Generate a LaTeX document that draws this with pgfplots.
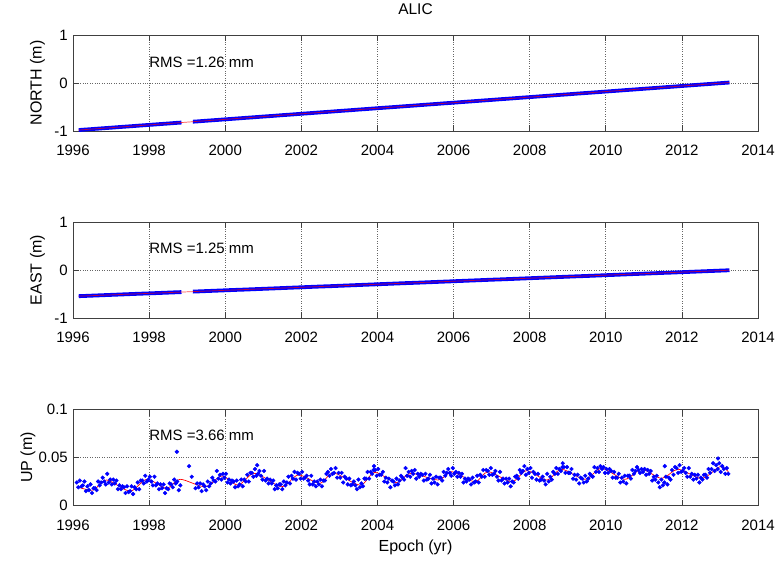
\documentclass[border=0pt]{standalone}
\usepackage{fontspec}
\setmainfont{Liberation Sans}
\usepackage{pgfplots}
\pgfplotsset{compat=1.18}
\begin{document}
\fontsize{15}{18}\selectfont
\begin{tikzpicture}
\useasboundingbox (0pt,0pt) rectangle (778pt,-563pt);
\pgfplotsset{
 gps/.style={
  scale only axis, width=685pt, height=96pt,
  xmin=1996, xmax=2014, xtick={1996,1998,...,2014},
  /pgf/number format/assume math mode=true,
  /pgf/number format/1000 sep={},
  xticklabel style={yshift=-9pt},
  grid=major, grid style={dotted, black!60, line width=0.6pt},
  tick align=inside, major tick length=6pt,
  axis line style={black!75, line width=0.6pt},
  every tick/.style={black!75, line width=0.6pt},
  every axis y label/.style={at={(axis description cs:-0.0518,0.5)}, rotate=90, anchor=center, font=\fontsize{16}{18}\selectfont},
  unbounded coords=jump,
 },
 ne/.style={ymin=-1, ymax=1, ytick={-1,0,1}, yticklabels={-1,0,1}},
}
% ---------------- NORTH
\begin{axis}[gps, ne, at={(73pt,-131pt)}, anchor=south west, ylabel={NORTH (m)},
  title={ALIC}, title style={at={(axis description cs:0.5,1.21)}, anchor=center, font=\fontsize{15.5}{18}\selectfont}]
\addplot[blue, line width=3.8pt, line join=round] table[row sep=\\] {
x y\\
1996.15 -0.980\\ 1996.25 -0.974\\ 1996.50 -0.960\\ 1996.75 -0.945\\ 1997.00 -0.931\\ 1997.25 -0.916\\ 1997.50 -0.902\\ 1997.75 -0.887\\
1998.00 -0.873\\ 1998.25 -0.858\\ 1998.50 -0.844\\ 1998.75 -0.829\\ 1998.85 -0.824\\ 1999.00 nan\\ 1999.15 -0.806\\ 1999.25 -0.801\\
1999.50 -0.786\\ 1999.75 -0.772\\ 2000.00 -0.757\\ 2000.25 -0.743\\ 2000.50 -0.728\\ 2000.75 -0.714\\ 2001.00 -0.699\\ 2001.25 -0.685\\
2001.50 -0.670\\ 2001.75 -0.656\\ 2002.00 -0.641\\ 2002.25 -0.627\\ 2002.50 -0.612\\ 2002.75 -0.598\\ 2003.00 -0.583\\ 2003.25 -0.569\\
2003.50 -0.554\\ 2003.75 -0.540\\ 2004.00 -0.525\\ 2004.25 -0.511\\ 2004.50 -0.497\\ 2004.75 -0.482\\ 2005.00 -0.468\\ 2005.25 -0.453\\
2005.50 -0.439\\ 2005.75 -0.424\\ 2006.00 -0.410\\ 2006.25 -0.395\\ 2006.50 -0.381\\ 2006.75 -0.366\\ 2007.00 -0.352\\ 2007.25 -0.337\\
2007.50 -0.323\\ 2007.75 -0.308\\ 2008.00 -0.294\\ 2008.25 -0.279\\ 2008.50 -0.265\\ 2008.75 -0.250\\ 2009.00 -0.236\\ 2009.25 -0.221\\
2009.50 -0.207\\ 2009.75 -0.193\\ 2010.00 -0.178\\ 2010.25 -0.164\\ 2010.50 -0.149\\ 2010.75 -0.135\\ 2011.00 -0.120\\ 2011.25 -0.106\\
2011.50 -0.091\\ 2011.75 -0.077\\ 2012.00 -0.062\\ 2012.25 -0.048\\ 2012.50 -0.033\\ 2012.75 -0.019\\ 2013.00 -0.004\\ 2013.25 0.010\\
};
\addplot[red, line width=0.7pt, opacity=0.7] coordinates {(1996.15,-0.980) (2013.25,0.010)};
\node[anchor=west, inner sep=0pt] at (axis cs:1998,0.44) {RMS =1.26 mm};
\end{axis}
% ---------------- EAST
\begin{axis}[gps, ne, at={(73pt,-318pt)}, anchor=south west, ylabel={EAST (m)}]
\addplot[blue, line width=3.8pt, line join=round] table[row sep=\\] {
x y\\
1996.15 -0.545\\ 1996.25 -0.542\\ 1996.50 -0.534\\ 1996.75 -0.526\\ 1997.00 -0.518\\ 1997.25 -0.510\\ 1997.50 -0.502\\ 1997.75 -0.494\\
1998.00 -0.487\\ 1998.25 -0.479\\ 1998.50 -0.471\\ 1998.75 -0.463\\ 1998.85 -0.460\\ 1999.00 nan\\ 1999.15 -0.450\\ 1999.25 -0.447\\
1999.50 -0.439\\ 1999.75 -0.431\\ 2000.00 -0.423\\ 2000.25 -0.415\\ 2000.50 -0.408\\ 2000.75 -0.400\\ 2001.00 -0.392\\ 2001.25 -0.384\\
2001.50 -0.376\\ 2001.75 -0.368\\ 2002.00 -0.360\\ 2002.25 -0.352\\ 2002.50 -0.344\\ 2002.75 -0.337\\ 2003.00 -0.329\\ 2003.25 -0.321\\
2003.50 -0.313\\ 2003.75 -0.305\\ 2004.00 -0.297\\ 2004.25 -0.289\\ 2004.50 -0.281\\ 2004.75 -0.273\\ 2005.00 -0.266\\ 2005.25 -0.258\\
2005.50 -0.250\\ 2005.75 -0.242\\ 2006.00 -0.234\\ 2006.25 -0.226\\ 2006.50 -0.218\\ 2006.75 -0.210\\ 2007.00 -0.202\\ 2007.25 -0.195\\
2007.50 -0.187\\ 2007.75 -0.179\\ 2008.00 -0.171\\ 2008.25 -0.163\\ 2008.50 -0.155\\ 2008.75 -0.147\\ 2009.00 -0.139\\ 2009.25 -0.131\\
2009.50 -0.124\\ 2009.75 -0.116\\ 2010.00 -0.108\\ 2010.25 -0.100\\ 2010.50 -0.092\\ 2010.75 -0.084\\ 2011.00 -0.076\\ 2011.25 -0.068\\
2011.50 -0.060\\ 2011.75 -0.053\\ 2012.00 -0.045\\ 2012.25 -0.037\\ 2012.50 -0.029\\ 2012.75 -0.021\\ 2013.00 -0.013\\ 2013.25 -0.005\\
};
\addplot[red, line width=0.7pt, opacity=0.7] coordinates {(1996.15,-0.545) (2013.25,-0.005)};
\node[anchor=west, inner sep=0pt] at (axis cs:1998,0.45) {RMS =1.25 mm};
\end{axis}
% ---------------- UP
\begin{axis}[gps, at={(73pt,-505.5pt)}, anchor=south west, ylabel={UP (m)},
  ylabel style={at={(axis description cs:-0.0657,0.5)}},
  ymin=0, ymax=0.1, ytick={0,0.05,0.1}, yticklabels={0,0.05,0.1},
  xlabel={Epoch (yr)}, xlabel style={at={(axis description cs:0.5,-0.4375)}, anchor=center, font=\fontsize{16}{18}\selectfont}]
\addplot[only marks, mark=*, mark size=1.9pt, blue, mark options={draw=blue, fill=blue}] coordinates {
(1996.10,0.024) (1996.14,0.019) (1996.18,0.026) (1996.22,0.020) (1996.26,0.021) (1996.30,0.025) (1996.34,0.015) (1996.38,0.020)
(1996.42,0.016) (1996.46,0.022) (1996.50,0.013) (1996.54,0.018) (1996.58,0.018) (1996.62,0.016) (1996.66,0.025) (1996.70,0.021)
(1996.74,0.024) (1996.78,0.029) (1996.82,0.025) (1996.86,0.022) (1996.90,0.033) (1996.94,0.024) (1996.98,0.027) (1997.02,0.022)
(1997.06,0.027) (1997.10,0.023) (1997.14,0.026) (1997.18,0.017) (1997.22,0.021) (1997.26,0.017) (1997.30,0.020) (1997.34,0.019)
(1997.38,0.013) (1997.42,0.020) (1997.46,0.014) (1997.50,0.015) (1997.54,0.020) (1997.58,0.012) (1997.62,0.019) (1997.66,0.017)
(1997.70,0.024) (1997.74,0.017) (1997.78,0.026) (1997.82,0.026) (1997.86,0.023) (1997.90,0.031) (1997.94,0.025) (1997.98,0.027)
(1998.02,0.030) (1998.06,0.025) (1998.10,0.021) (1998.14,0.030) (1998.18,0.021) (1998.22,0.023) (1998.26,0.017) (1998.30,0.022)
(1998.34,0.018) (1998.38,0.022) (1998.42,0.013) (1998.46,0.018) (1998.50,0.017) (1998.54,0.023) (1998.58,0.022) (1998.62,0.019)
(1998.66,0.027) (1998.70,0.023) (1998.73,0.056) (1998.74,0.025) (1998.78,0.016) (1998.82,0.021) (1999.05,0.041) (1999.12,0.030)
(1999.22,0.018) (1999.26,0.023) (1999.30,0.019) (1999.34,0.023) (1999.38,0.015) (1999.42,0.022) (1999.46,0.020) (1999.50,0.016)
(1999.54,0.025) (1999.58,0.020) (1999.62,0.023) (1999.66,0.029) (1999.70,0.026) (1999.74,0.025) (1999.78,0.036) (1999.82,0.028)
(1999.86,0.032) (1999.90,0.027) (1999.94,0.033) (1999.98,0.029) (2000.02,0.033) (2000.06,0.024) (2000.10,0.027) (2000.14,0.023)
(2000.18,0.026) (2000.22,0.025) (2000.26,0.019) (2000.30,0.026) (2000.34,0.020) (2000.38,0.022) (2000.42,0.027) (2000.46,0.020)
(2000.50,0.027) (2000.54,0.025) (2000.58,0.032) (2000.62,0.025) (2000.66,0.034) (2000.70,0.034) (2000.74,0.030) (2000.78,0.038)
(2000.82,0.031) (2000.84,0.042) (2000.86,0.033) (2000.90,0.036) (2000.94,0.031) (2000.98,0.027) (2001.02,0.036) (2001.06,0.026)
(2001.10,0.028) (2001.14,0.023) (2001.18,0.027) (2001.22,0.023) (2001.26,0.026) (2001.30,0.017) (2001.34,0.021) (2001.38,0.018)
(2001.42,0.022) (2001.46,0.022) (2001.50,0.017) (2001.54,0.025) (2001.58,0.021) (2001.62,0.024) (2001.66,0.030) (2001.70,0.023)
(2001.74,0.031) (2001.78,0.028) (2001.82,0.035) (2001.86,0.027) (2001.90,0.034) (2001.94,0.033) (2001.98,0.028) (2002.02,0.035)
(2002.06,0.028) (2002.10,0.029) (2002.14,0.031) (2002.18,0.026) (2002.22,0.022) (2002.26,0.031) (2002.30,0.022) (2002.34,0.025)
(2002.38,0.020) (2002.42,0.025) (2002.46,0.022) (2002.50,0.027) (2002.54,0.020) (2002.58,0.026) (2002.62,0.026) (2002.66,0.033)
(2002.70,0.035) (2002.74,0.031) (2002.78,0.038) (2002.82,0.033) (2002.86,0.034) (2002.90,0.039) (2002.94,0.029) (2002.98,0.034)
(2003.02,0.029) (2003.06,0.034) (2003.10,0.024) (2003.14,0.030) (2003.18,0.028) (2003.22,0.022) (2003.26,0.028) (2003.30,0.021)
(2003.34,0.022) (2003.38,0.025) (2003.42,0.021) (2003.46,0.017) (2003.50,0.027) (2003.54,0.019) (2003.58,0.023) (2003.62,0.020)
(2003.66,0.028) (2003.70,0.028) (2003.74,0.035) (2003.78,0.028) (2003.82,0.035) (2003.86,0.033) (2003.90,0.037) (2003.91,0.041)
(2003.94,0.037) (2003.98,0.031) (2004.02,0.038) (2004.06,0.032) (2004.10,0.032) (2004.14,0.035) (2004.18,0.025) (2004.22,0.029)
(2004.26,0.024) (2004.30,0.028) (2004.34,0.019) (2004.38,0.026) (2004.42,0.025) (2004.46,0.021) (2004.50,0.028) (2004.54,0.022)
(2004.58,0.026) (2004.62,0.031) (2004.66,0.029) (2004.70,0.027) (2004.74,0.039) (2004.78,0.031) (2004.82,0.035) (2004.86,0.030)
(2004.90,0.036) (2004.94,0.033) (2004.98,0.037) (2005.02,0.028) (2005.06,0.033) (2005.10,0.030) (2005.14,0.033) (2005.18,0.032)
(2005.22,0.026) (2005.26,0.033) (2005.30,0.027) (2005.34,0.028) (2005.38,0.032) (2005.42,0.023) (2005.46,0.028) (2005.50,0.024)
(2005.54,0.030) (2005.58,0.022) (2005.62,0.029) (2005.66,0.029) (2005.70,0.026) (2005.74,0.035) (2005.78,0.031) (2005.82,0.034)
(2005.86,0.038) (2005.90,0.034) (2005.94,0.031) (2005.98,0.039) (2006.02,0.033) (2006.06,0.035) (2006.10,0.030) (2006.14,0.034)
(2006.18,0.030) (2006.22,0.033) (2006.26,0.024) (2006.30,0.028) (2006.34,0.025) (2006.38,0.028) (2006.42,0.027) (2006.46,0.022)
(2006.50,0.029) (2006.54,0.024) (2006.58,0.025) (2006.62,0.031) (2006.66,0.024) (2006.70,0.032) (2006.74,0.030) (2006.78,0.037)
(2006.82,0.030) (2006.86,0.037) (2006.90,0.036) (2006.94,0.032) (2006.98,0.039) (2007.02,0.032) (2007.06,0.033) (2007.10,0.036)
(2007.14,0.030) (2007.18,0.026) (2007.22,0.035) (2007.26,0.026) (2007.30,0.028) (2007.34,0.023) (2007.38,0.028) (2007.42,0.024)
(2007.46,0.028) (2007.50,0.020) (2007.54,0.025) (2007.58,0.024) (2007.62,0.030) (2007.66,0.031) (2007.70,0.028) (2007.74,0.037)
(2007.78,0.034) (2007.82,0.036) (2007.86,0.041) (2007.90,0.032) (2007.94,0.038) (2007.98,0.034) (2008.02,0.039) (2008.06,0.029)
(2008.10,0.035) (2008.14,0.033) (2008.18,0.027) (2008.22,0.033) (2008.26,0.026) (2008.30,0.027) (2008.34,0.030) (2008.38,0.026)
(2008.42,0.022) (2008.46,0.033) (2008.50,0.025) (2008.54,0.030) (2008.58,0.027) (2008.62,0.035) (2008.66,0.033) (2008.70,0.039)
(2008.74,0.033) (2008.78,0.038) (2008.82,0.036) (2008.86,0.040) (2008.87,0.044) (2008.90,0.040) (2008.94,0.034) (2008.98,0.040)
(2009.02,0.034) (2009.06,0.034) (2009.10,0.038) (2009.14,0.028) (2009.18,0.032) (2009.22,0.027) (2009.26,0.032) (2009.30,0.023)
(2009.34,0.029) (2009.38,0.028) (2009.42,0.024) (2009.46,0.031) (2009.50,0.025) (2009.54,0.028) (2009.58,0.033) (2009.62,0.031)
(2009.66,0.030) (2009.70,0.040) (2009.74,0.035) (2009.78,0.039) (2009.82,0.035) (2009.86,0.041) (2009.90,0.038) (2009.94,0.040)
(2009.98,0.034) (2010.02,0.038) (2010.06,0.034) (2010.10,0.038) (2010.14,0.036) (2010.18,0.029) (2010.22,0.035) (2010.26,0.029)
(2010.30,0.029) (2010.34,0.033) (2010.38,0.024) (2010.42,0.029) (2010.46,0.025) (2010.50,0.031) (2010.54,0.023) (2010.58,0.031)
(2010.62,0.031) (2010.66,0.028) (2010.70,0.037) (2010.74,0.033) (2010.78,0.036) (2010.82,0.040) (2010.86,0.037) (2010.90,0.034)
(2010.94,0.038) (2010.98,0.035) (2011.02,0.038) (2011.06,0.032) (2011.10,0.037) (2011.14,0.033) (2011.18,0.036) (2011.22,0.026)
(2011.26,0.030) (2011.30,0.027) (2011.34,0.031) (2011.38,0.024) (2011.42,0.019) (2011.46,0.027) (2011.50,0.021) (2011.54,0.024)
(2011.55,0.041) (2011.58,0.030) (2011.62,0.022) (2011.66,0.029) (2011.70,0.027) (2011.74,0.037) (2011.78,0.032) (2011.82,0.040)
(2011.86,0.039) (2011.90,0.034) (2011.94,0.042) (2011.98,0.035) (2012.02,0.036) (2012.06,0.039) (2012.10,0.034) (2012.14,0.030)
(2012.18,0.039) (2012.22,0.030) (2012.26,0.033) (2012.30,0.027) (2012.34,0.032) (2012.38,0.028) (2012.42,0.032) (2012.46,0.024)
(2012.50,0.029) (2012.54,0.027) (2012.58,0.032) (2012.62,0.032) (2012.66,0.029) (2012.70,0.038) (2012.74,0.034) (2012.78,0.038)
(2012.82,0.044) (2012.86,0.036) (2012.90,0.042) (2012.94,0.038) (2012.95,0.049) (2012.98,0.044) (2013.02,0.035) (2013.06,0.041)
(2013.10,0.038) (2013.14,0.033) (2013.18,0.039) (2013.22,0.033)
};
\addplot[red, line width=0.7pt, smooth] coordinates {
(1996.10,0.0196) (1996.53,0.0161) (1996.88,0.0266) (1997.50,0.0150) (1997.94,0.0273) (1998.46,0.0179) (1998.81,0.0273)
(1999.47,0.0196) (1999.91,0.0307) (2000.34,0.0213) (2000.78,0.0335) (2001.48,0.0196) (2001.92,0.0318) (2002.49,0.0230)
(2002.84,0.0340) (2003.54,0.0213) (2003.93,0.0345) (2004.50,0.0238) (2004.87,0.0335) (2005.60,0.0266) (2005.95,0.0352)
(2006.56,0.0248) (2006.91,0.0352) (2007.53,0.0248) (2007.92,0.0363) (2008.45,0.0266) (2008.84,0.0377) (2009.45,0.0273)
(2009.89,0.0387) (2010.50,0.0273) (2010.94,0.0377) (2011.47,0.0283) (2011.90,0.0377) (2012.52,0.0283) (2013.00,0.0404)
(2013.22,0.0352)
};
\node[anchor=west, inner sep=0pt] at (axis cs:1998,0.0734) {RMS =3.66 mm};
\end{axis}
\end{tikzpicture}
\end{document}
